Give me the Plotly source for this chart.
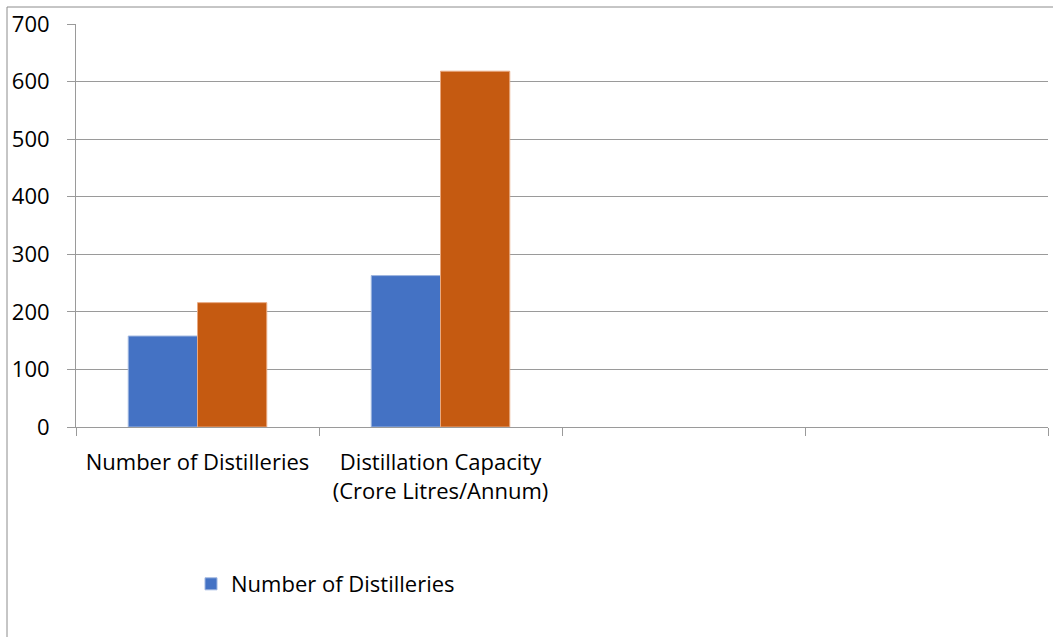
import plotly.graph_objects as go

categories = ["Number of Distilleries", "Distillation Capacity<br>(Crore Litres/Annum)", " ", "  "]
series_blue = [158, 263, None, None]
series_orange = [216, 618, None, None]
y_ticks = [0, 100, 200, 300, 400, 500, 600, 700]

fig = go.Figure()
fig.add_trace(go.Bar(x=categories, y=series_blue, name="Number of Distilleries",
                     marker=dict(color="#4472C4", line=dict(color="#9FB6E0", width=1))))
fig.add_trace(go.Bar(x=categories, y=series_orange, name="Distillation Capacity", showlegend=False,
                     marker=dict(color="#C55A11", line=dict(color="#E8A880", width=1))))

W, H = 1053, 637
L, R, T, B = 76, 1048, 24, 427
pw, ph = R - L, B - T
def px_x(p): return (p - L) / pw
def px_y(p): return (B - p) / ph

FS = 22
fig.update_layout(
    width=W, height=H,
    margin=dict(l=L, r=W - R, t=T, b=H - B),
    paper_bgcolor="white", plot_bgcolor="white",
    barmode="group", bargap=0.43, bargroupgap=0,
    font=dict(family="Open Sans", size=FS, color="#000000"),
    showlegend=True,
    legend=dict(orientation="h", x=px_x(191), y=px_y(563), xanchor="left", yanchor="top",
                font=dict(size=FS), itemwidth=30, bgcolor="rgba(0,0,0,0)"),
    xaxis=dict(type="category", tickson="boundaries", ticks="outside", ticklen=8,
               tickcolor="#9a9a9a", showline=True, linecolor="#9a9a9a", linewidth=1,
               showgrid=False, tickfont=dict(size=FS), ticklabelstandoff=16, fixedrange=True),
    yaxis=dict(range=[0, 700], tickvals=y_ticks, ticks="outside", ticklen=8,
               tickcolor="#9a9a9a", showline=True, linecolor="#9a9a9a", linewidth=1,
               showgrid=True, gridcolor="#9a9a9a", gridwidth=1, zeroline=False,
               tickfont=dict(size=FS), ticklabelstandoff=13),
    shapes=[dict(type="rect", xref="paper", yref="paper",
                 x0=px_x(7), x1=px_x(1100), y0=px_y(700), y1=px_y(7),
                 line=dict(color="#8c8c8c", width=1), fillcolor="rgba(0,0,0,0)", layer="below")],
)

fig.write_html("out.html")
